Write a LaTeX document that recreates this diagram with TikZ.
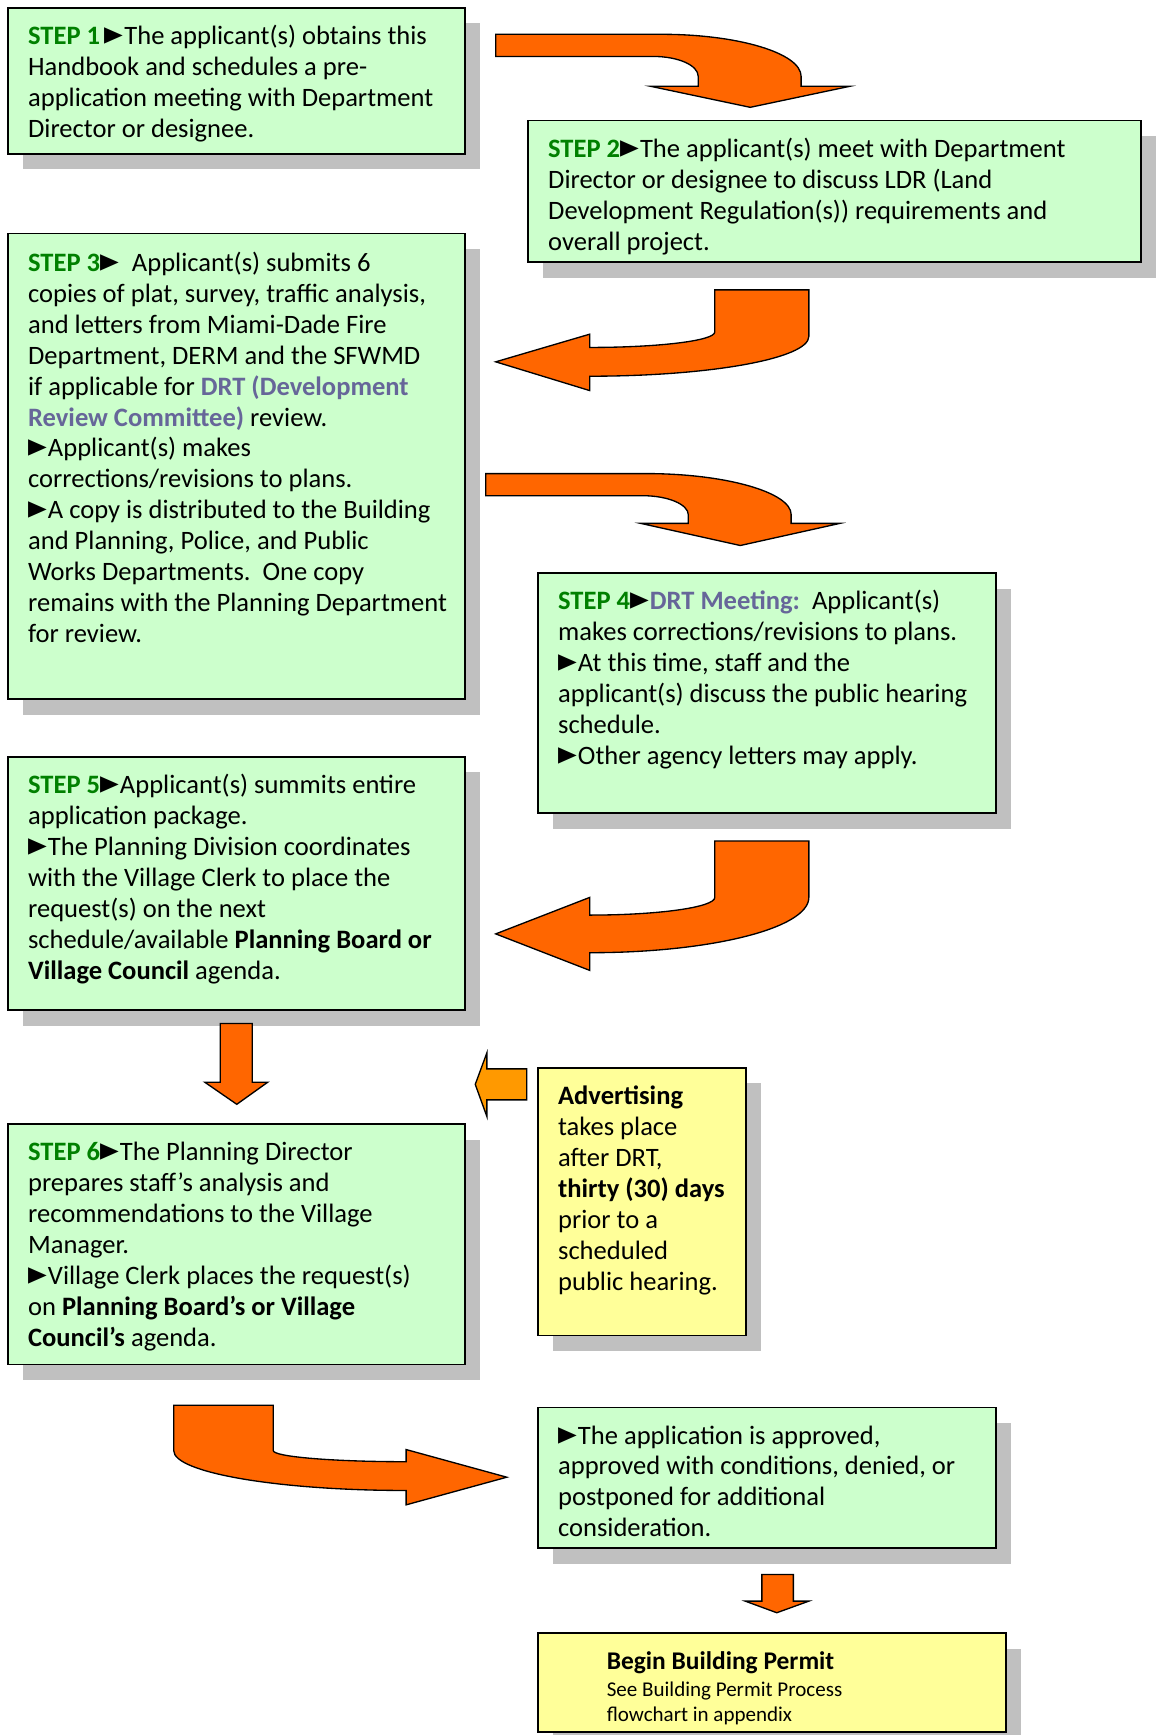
\documentclass[tikz,border=0pt]{standalone}
\usepackage{fontspec}
\usepackage{graphicx}
\setmainfont{Carlito}
\newfontfamily\symfont{DejaVu Sans}[Scale=1.35]
\usetikzlibrary{positioning,shadows,calc}

\definecolor{boxgreen}{HTML}{CCFFCC}
\definecolor{boxyellow}{HTML}{FFFF99}
\definecolor{stepgreen}{HTML}{008000}
\definecolor{drtblue}{HTML}{666699}
\definecolor{arrowor}{HTML}{FF6600}
\definecolor{advor}{HTML}{FF9900}
\definecolor{shadowgray}{HTML}{C0C0C0}

\newcommand{\steplbl}[1]{{\bfseries\color{stepgreen}STEP #1}}
\newcommand{\pointer}{\scalebox{0.68}[0.92]{\symfont\char"25BA}\hspace{0.5pt}}
\newcommand{\drt}[1]{{\bfseries\color{drtblue}#1}}

\tikzset{
  stepbox/.style={draw=black, line width=0.75pt, fill=boxgreen, anchor=north west,
    inner sep=0pt, outer sep=0pt,
    drop shadow={shadow xshift=7pt, shadow yshift=-7pt, fill=shadowgray, opacity=1}},
  notebox/.style={stepbox, fill=boxyellow},
  txt/.style={anchor=north west, inner sep=0pt, align=left, font=\fontsize{12}{14}\selectfont},
  bigarrow/.style={draw=black, line width=0.6pt, fill=arrowor},
  sidearrow/.style={bigarrow, fill=advor}
}

\begin{document}
\begin{tikzpicture}[x=0.5pt, y=-0.5pt]
  \useasboundingbox (0,0) rectangle (1048,1568);

  % boxes
  \node[stepbox, minimum width=206.5pt, minimum height=66pt] (s1) at (7,7) {};
  \node[stepbox, minimum width=277pt, minimum height=64pt] (s2) at (477,109) {};
  \node[stepbox, minimum width=206.5pt, minimum height=210.5pt] (s3) at (7,211) {};
  \node[stepbox, minimum width=207pt, minimum height=108.5pt] (s4) at (486,518) {};
  \node[stepbox, minimum width=206.5pt, minimum height=114.5pt] (s5) at (7,684) {};
  \node[stepbox, minimum width=206.5pt, minimum height=108.5pt] (s6) at (7,1016) {};
  \node[notebox, minimum width=94pt, minimum height=121pt] (adv) at (486,965) {};
  \node[stepbox, minimum width=207pt, minimum height=63.5pt] (res) at (486,1272) {};
  \node[notebox, minimum width=211.5pt, minimum height=44.5pt] (bp) at (486,1476) {};

  % texts
  \node[txt, below right=6.5pt and 9pt of s1.north west] (t1) {\strut\steplbl{1}\,\pointer The applicant(s) obtains this\\
    Handbook and schedules a pre-\\
    application meeting with Department\\
    Director or designee.};
  \node[txt, below right=6.5pt and 9pt of s2.north west] (t2) {\strut\steplbl{2}\pointer The applicant(s) meet with Department\\
    Director or designee to discuss LDR (Land\\
    Development Regulation(s)) requirements and\\
    overall project.};
  \node[txt, below right=7pt and 9pt of s3.north west] (t3) {\strut\steplbl{3}\pointer\ \ Applicant(s) submits 6\\
    copies of plat, survey, traffic analysis,\\
    and letters from Miami-Dade Fire\\
    Department, DERM and the SFWMD\\
    if applicable for \drt{DRT (Development}\\
    \drt{Review Committee)} review.\\
    \pointer Applicant(s) makes\\
    corrections/revisions to plans.\\
    \pointer A copy is distributed to the Building\\
    and Planning, Police, and Public\\
    Works Departments.\ \ One copy\\
    remains with the Planning Department\\
    for review.};
  \node[txt, below right=6.5pt and 9pt of s4.north west] (t4) {\strut\steplbl{4}\pointer\drt{DRT Meeting:}\ \ Applicant(s)\\
    makes corrections/revisions to plans.\\
    \pointer At this time, staff and the\\
    applicant(s) discuss the public hearing\\
    schedule.\\
    \pointer Other agency letters may apply.};
  \node[txt, below right=6.5pt and 9pt of s5.north west] (t5) {\strut\steplbl{5}\pointer Applicant(s) summits entire\\
    application package.\\
    \pointer The Planning Division coordinates\\
    with the Village Clerk to place the\\
    request(s) on the next\\
    schedule/available \textbf{Planning Board or}\\
    \textbf{Village Council} agenda.};
  \node[txt, below right=6.5pt and 9pt of s6.north west] (t6) {\strut\steplbl{6}\pointer The Planning Director\\
    prepares staff's analysis and\\
    recommendations to the Village\\
    Manager.\\
    \pointer Village Clerk places the request(s)\\
    on \textbf{Planning Board's or Village}\\
    \textbf{Council's} agenda.};
  \node[txt, below right=6.5pt and 9pt of adv.north west] (t7) {\strut\textbf{Advertising}\\
    takes place\\
    after DRT,\\
    \textbf{thirty (30) days}\\
    prior to a\\
    scheduled\\
    public hearing.};
  \node[txt, below right=6.5pt and 9pt of res.north west] (t8) {\strut\pointer The application is approved,\\
    approved with conditions, denied, or\\
    postponed for additional\\
    consideration.};
  \node[txt, font=\fontsize{9.5}{11}\selectfont, below right=8pt and 31pt of bp.north west] (t9) {\strut{\fontsize{11.5}{11}\selectfont\bfseries Begin Building Permit}\\[1.5pt]
    See Building Permit Process\\
    flowchart in appendix};

  % block arrows
  \draw[bigarrow] (448,31) -- (598,31) .. controls (667,31) and (724,48) .. (724,69) -- (724,78) -- (768,78) -- (678,97)
    -- (588,78) -- (631,78) -- (631,69) .. controls (631,59) and (613,51) .. (590,51) -- (448,51) -- cycle;
  \draw[bigarrow] (646,262) -- (731,262) -- (731,304) .. controls (731,324) and (642,340) .. (533,340) -- (533,353)
    -- (448,327) -- (533,302) -- (533,314) .. controls (595,314) and (646,308) .. (646,300) -- cycle;
  \draw[bigarrow] (439,428) -- (584,428) .. controls (656,428) and (715,445) .. (715,465) -- (715,473) -- (759,473)
    -- (669,493) -- (579,473) -- (622,473) -- (622,465) .. controls (622,456) and (604,448) .. (581,448) -- (439,448) -- cycle;
  \draw[bigarrow] (646,760) -- (731,760) -- (731,811) .. controls (731,839) and (642,861) .. (533,861) -- (533,877)
    -- (448,844) -- (533,811) -- (533,827) .. controls (595,827) and (646,820) .. (646,811) -- cycle;
  \draw[bigarrow] (199,925) -- (228,925) -- (228,978) -- (242,978) -- (214,998) -- (185,978) -- (199,978) -- cycle;
  \draw[sidearrow] (476,966) -- (476,994) -- (440,994) -- (440,1009) -- (429.5,980) -- (440,951.5) -- (440,966) -- cycle;
  \draw[bigarrow] (157,1270) -- (247,1270) -- (247,1311) .. controls (247,1316.5) and (301,1321) .. (367,1321) -- (367,1310)
    -- (458,1335) -- (367,1360) -- (367,1347) .. controls (252,1347) and (157,1331) .. (157,1311) -- cycle;
  \draw[bigarrow] (688.5,1423) -- (717,1423) -- (717,1447) -- (731,1447) -- (702,1457.5) -- (673.5,1447) -- (688.5,1447) -- cycle;
\end{tikzpicture}
\end{document}
